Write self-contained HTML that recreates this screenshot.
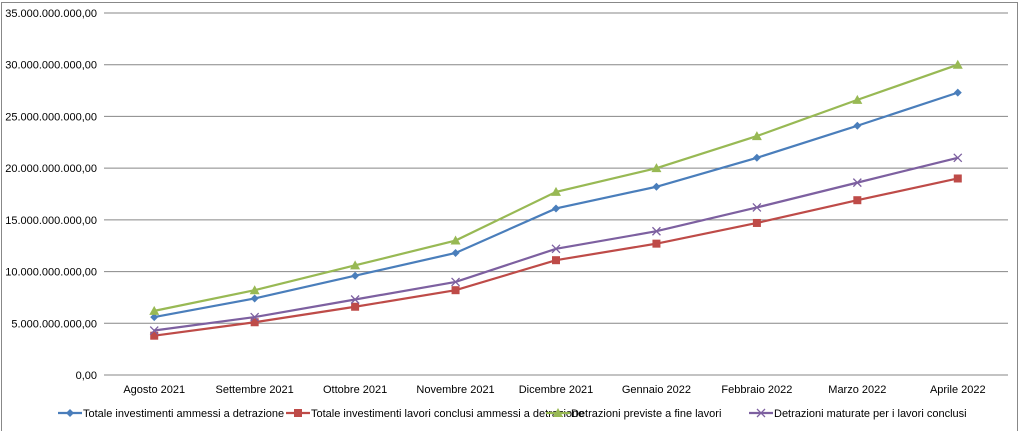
<!DOCTYPE html>
<html><head><meta charset="utf-8"><style>
body{margin:0;background:#fff;font-family:"Liberation Sans",sans-serif;}
svg text{font-family:"Liberation Sans",sans-serif;font-size:11px;fill:#000;}
</style></head><body>
<svg id="chart" width="1021" height="431">
<rect x="1.5" y="2.5" width="1016" height="440" fill="#fff" stroke="#888"/>
<g id="grid"></g><g id="series"></g><g id="legend"></g>
</svg>
<script>
const categories=["Agosto 2021","Settembre 2021","Ottobre 2021","Novembre 2021","Dicembre 2021","Gennaio 2022","Febbraio 2022","Marzo 2022","Aprile 2022"];
const seriesNames=["Totale investimenti ammessi a detrazione","Totale investimenti lavori conclusi ammessi a detrazione","Detrazioni previste a fine lavori","Detrazioni maturate per i lavori conclusi"];
const totInvest=[5.6,7.4,9.6,11.8,16.1,18.2,21.0,24.1,27.3];
const totConclusi=[3.8,5.1,6.6,8.2,11.1,12.7,14.7,16.9,19.0];
const detrPreviste=[6.2,8.2,10.6,13.0,17.7,20.0,23.1,26.6,30.0];
const detrMaturate=[4.3,5.6,7.3,9.0,12.2,13.9,16.2,18.6,21.0];
const yTicks=[0,5,10,15,20,25,30,35];
const yTickLabels=["0,00","5.000.000.000,00","10.000.000.000,00","15.000.000.000,00","20.000.000.000,00","25.000.000.000,00","30.000.000.000,00","35.000.000.000,00"];
const NS="http://www.w3.org/2000/svg";
const L=104,R=1008,T=13,B=375;
const y=v=>B-(v/35)*(B-T);
const step=(R-L)/categories.length;
const x=i=>L+step*(i+0.5);
function mk(t,a,p){const e=document.createElementNS(NS,t);for(const k in a)e.setAttribute(k,a[k]);p.appendChild(e);return e;}
const grid=document.getElementById('grid');
yTicks.forEach((v,i)=>{
 const l=mk('line',{x1:L,x2:R,y1:y(v),y2:y(v),stroke:'#878787','stroke-width':1},grid);
 
 
 const t=mk('text',{x:L-7,y:y(v)+4,'text-anchor':'end'},grid);t.textContent=yTickLabels[i];
 
 
});
categories.forEach((c,i)=>{
 const t=mk('text',{x:x(i),y:393,'text-anchor':'middle'},grid);t.textContent=c;
 
 
});
const colors=["#4a7ebb","#be4b48","#98b954","#7d60a0"];
const data=[totInvest,totConclusi,detrPreviste,detrMaturate];
function marker(k,cx,cy,g){
 let e;
 if(k===0)e=mk('path',{d:`M${cx} ${cy-4}L${cx+4} ${cy}L${cx} ${cy+4}L${cx-4} ${cy}Z`,fill:colors[0]},g);
 else if(k===1)e=mk('rect',{x:cx-4,y:cy-4,width:8,height:8,fill:colors[1]},g);
 else if(k===2)e=mk('path',{d:`M${cx} ${cy-5}L${cx+5} ${cy+4}L${cx-5} ${cy+4}Z`,fill:colors[2]},g);
 else e=mk('path',{d:`M${cx-4} ${cy-4}L${cx+4} ${cy+4}M${cx-4} ${cy+4}L${cx+4} ${cy-4}`,stroke:colors[3],'stroke-width':1.3},g);
 return e;
}
const sg=document.getElementById('series');
data.forEach((arr,k)=>{
 const g=mk('g',{},sg);
 
 
 mk('polyline',{points:arr.map((v,i)=>x(i)+','+y(v)).join(' '),fill:'none',stroke:colors[k],'stroke-width':2.2},g);
 arr.forEach((v,i)=>{const m=marker(k,x(i),y(v),g);
  
  });
});
const lg=document.getElementById('legend');
const lx=[58,286,546,749];
seriesNames.forEach((n,k)=>{
 const g=mk('g',{},lg);
 
 
 mk('line',{x1:lx[k],x2:lx[k]+24,y1:413,y2:413,stroke:colors[k],'stroke-width':2.2},g);
 marker(k,lx[k]+12,413,g);
 const t=mk('text',{x:lx[k]+25,y:417},g);t.textContent=n;
});
</script>
</body></html>
